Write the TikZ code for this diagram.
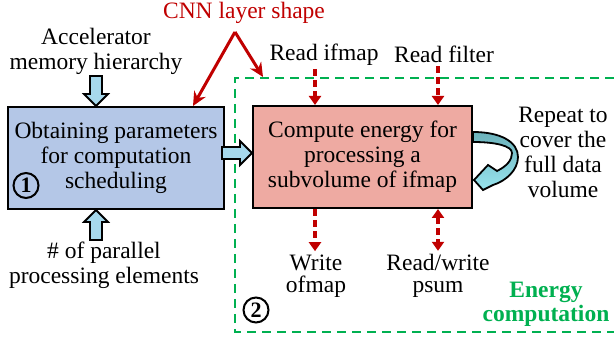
\documentclass[tikz,border=0pt]{standalone}
\usepackage{fontspec}
\setmainfont{Liberation Serif}
\usetikzlibrary{arrows.meta,calc}

\definecolor{boxblue}{RGB}{180,199,231}
\definecolor{boxred}{RGB}{238,170,162}
\definecolor{arrblue}{RGB}{166,216,236}
\definecolor{darkred}{RGB}{192,0,0}
\definecolor{engreen}{RGB}{0,176,80}
\definecolor{loopdark}{RGB}{108,178,187}
\definecolor{looplight}{RGB}{152,228,238}

% block arrow: tip, direction, length
\newcommand{\blockarrow}[3]{\draw[barrowsty, shift={(#1)}, rotate=#2] (0,0) -- (-12,12) -- (-12,6) -- (-#3,6) -- (-#3,-6) -- (-12,-6) -- (-12,-12) -- cycle;}

\tikzset{every node/.style={font=\fontsize{23.5}{25}\selectfont, align=center},
  procbox/.style={draw, line width=2pt, inner sep=0pt, minimum height=102pt},
  barrowsty/.style={draw, fill=arrblue, line width=1.8pt},
  dasharr/.style={darkred, line width=3.2pt, dash pattern=on 7pt off 4pt, -{Triangle[length=9pt,width=12pt]}},
  cnnarr/.style={darkred, line width=3pt, -{Stealth[length=14pt,width=13pt]}},
  frame/.style={engreen, line width=2.2pt, dash pattern=on 9pt off 6pt},
  numcirc/.style={draw, circle, line width=2pt, minimum size=25pt, inner sep=0pt, font=\bfseries\fontsize{22}{22}\selectfont}}

\begin{document}
\begin{tikzpicture}[x=1pt, y=-1pt]
\useasboundingbox (0,0) rectangle (614,339);

\node[procbox, fill=boxblue, minimum width=216pt] (sched) at (116,158) {Obtaining parameters\\for computation\\scheduling};
\node[procbox, fill=boxred, minimum width=219pt] (energy) at (362.5,157) {Compute energy for\\processing a\\subvolume of ifmap};
\node[numcirc] (one) at (26,185.5) {1};

\node (accel) at (96,51) {Accelerator\\memory hierarchy};
\node (npe) at (104,265) {\# of parallel\\processing elements};
\node[darkred] (cnn) at (244,12.5) {CNN layer shape};
\node (rdifmap) at (324,54.5) {Read ifmap};
\node (rdfilter) at (444,54.5) {Read filter};
\node[font=\fontsize{23.5}{22}\selectfont] (wrofmap) at (316,276) {Write\\ofmap};
\node[font=\fontsize{23.5}{22}\selectfont] (rwpsum) at (438,276) {Read/write\\psum};
\node (repeat) at (563,152.5) {Repeat to\\cover the\\full data\\volume};
\node[engreen, font=\bfseries\fontsize{23.5}{24}\selectfont] (encomp) at (546,304.5) {Energy\\computation};

%energy computation frame
\coordinate (frametl) at (235,78);
\draw[frame] (614,78) -- (frametl) -- (235,332) -- (614,332);
\node[numcirc] (two) at (256,310) {2};

%block arrows
\blockarrow{$(sched.north)+(-20,0)$}{-90}{30}
\blockarrow{$(sched.south)+(-20,0)$}{90}{30}
\blockarrow{$(energy.west)+(0,-4)$}{0}{30}

%cnn layer shape
\coordinate (apex) at (235,32);
\draw[cnnarr] (apex) -- ($(sched.north east)+(-32,0)$);
\draw[cnnarr] (apex) -- ($(frametl)+(28,-1)$);

%data movement
\coordinate (inA) at ($(energy.north west)+(63,0)$);
\coordinate (inB) at ($(energy.north east)+(-35,0)$);
\coordinate (outA) at ($(energy.south west)+(63,0)$);
\coordinate (outB) at ($(energy.south east)+(-35,0)$);
\draw[dasharr] (rdifmap.south -| inA) -- (inA);
\draw[dasharr] (rdfilter.south -| inB) -- (inB);
\draw[dasharr] (outA) -- (wrofmap.north -| outA);
\draw[dasharr, {Triangle[length=9pt,width=12pt]}-{Triangle[length=9pt,width=12pt]}] (outB) -- (rwpsum.north -| outB);

%repeat loop
\draw[line width=1.8pt, top color=loopdark, bottom color=looplight, shift={(energy.east)}]
  (0,-25) .. controls (28,-25) and (45,-15) .. (45,0)
  .. controls (45,13) and (33,24) .. (20,28) -- (10,33) -- (1,23) -- (15,8) -- (24,14)
  .. controls (34,9) and (39,3) .. (39,-4)
  .. controls (39,-11) and (23,-15) .. (0,-15) -- cycle;
\end{tikzpicture}
\end{document}
